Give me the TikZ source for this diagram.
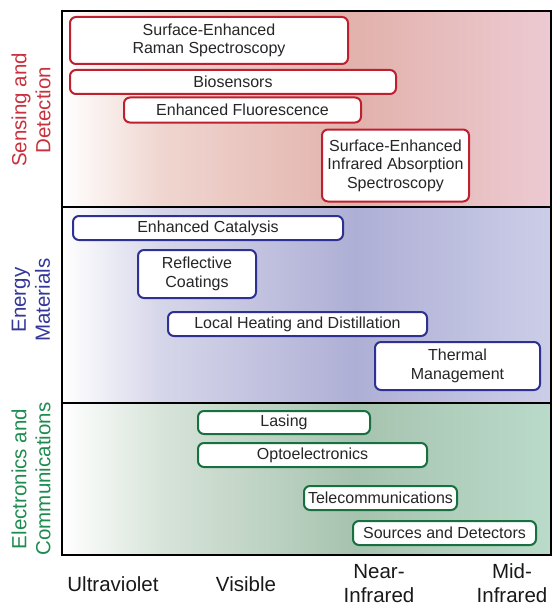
\documentclass[tikz,border=0pt]{standalone}
\usepackage{fontspec}
\setmainfont{Liberation Sans}
\usetikzlibrary{positioning}
\definecolor{sensered}{RGB}{190,32,48}
\definecolor{sensetext}{RGB}{200,50,62}
\definecolor{senselight}{RGB}{240,214,208}
\definecolor{sensemid}{RGB}{226,178,172}
\definecolor{senseright}{RGB}{236,202,210}
\definecolor{energyblue}{RGB}{46,49,146}
\definecolor{energytext}{RGB}{52,54,152}
\definecolor{energylight}{RGB}{214,214,234}
\definecolor{energymid}{RGB}{174,175,213}
\definecolor{energyright}{RGB}{204,206,232}
\definecolor{elecgreen}{RGB}{24,112,64}
\definecolor{electext}{RGB}{30,140,80}
\definecolor{eleclight}{RGB}{216,228,218}
\definecolor{elecmid}{RGB}{166,195,175}
\definecolor{elecright}{RGB}{186,218,202}
% shadings live on 100bp, the path is fitted into 25bp--75bp
\pgfdeclarehorizontalshading{sensefade}{100bp}{color(0bp)=(white); color(25bp)=(white); color(35bp)=(senselight); color(55bp)=(sensemid); color(75bp)=(senseright); color(100bp)=(senseright)}
\pgfdeclarehorizontalshading{energyfade}{100bp}{color(0bp)=(white); color(25bp)=(white); color(35bp)=(energylight); color(55bp)=(energymid); color(75bp)=(energyright); color(100bp)=(energyright)}
\pgfdeclarehorizontalshading{elecfade}{100bp}{color(0bp)=(white); color(25bp)=(white); color(35bp)=(eleclight); color(55bp)=(elecmid); color(75bp)=(elecright); color(100bp)=(elecright)}

\begin{document}
\begin{tikzpicture}[x=1pt, y=-1pt,
    box/.style={draw, rounded corners=6pt, fill=white, line width=2pt, align=center, inner sep=1pt,
        text=black!85, font=\fontsize{16}{18.5}\selectfont},
    sbox/.style={box, draw=sensered},
    ebox/.style={box, draw=energyblue},
    cbox/.style={box, draw=elecgreen},
    side/.style={rotate=90, align=center, font=\fontsize{20.5}{24}\selectfont},
    band/.style={align=center, text=black!90, font=\fontsize{20.5}{24}\selectfont}
]
    \useasboundingbox (0,0) rectangle (553,607);

    % Backgrounds
    \shade[shading=sensefade] (62,11) rectangle (551,207);
    \shade[shading=energyfade] (62,207) rectangle (551,403);
    \shade[shading=elecfade] (62,403) rectangle (551,555);
    \draw[line width=2.4pt] (62,11) rectangle (551,555);
    \draw[line width=2.4pt] (62,207) -- (551,207);
    \draw[line width=2.4pt] (62,403) -- (551,403);

    % Sensing and Detection
    \node[side, text=sensetext] (SD) at (31,110) {Sensing and\\Detection};
    \node[sbox, minimum width=278pt, minimum height=47pt] (SERS) at (209,40.5) {Surface-Enhanced\\Raman Spectroscopy};
    \node[sbox, minimum width=326pt, minimum height=24pt] (BIO) at (233,82) {Biosensors};
    \node[sbox, minimum width=237pt, minimum height=25pt] (FLU) at (242.5,110) {Enhanced Fluorescence};
    \node[sbox, minimum width=147pt, minimum height=72pt] (SEIRA) at (395.5,165.5) {Surface-Enhanced\\Infrared Absorption\\Spectroscopy};

    % Energy Materials
    \node[side, text=energytext] (EM) at (31,300) {Energy\\Materials};
    \node[ebox, minimum width=270pt, minimum height=24pt] (CAT) at (208,228) {Enhanced Catalysis};
    \node[ebox, minimum width=118pt, minimum height=48pt] (REF) at (197,274) {Reflective\\Coatings};
    \node[ebox, minimum width=259pt, minimum height=24pt] (HEAT) at (297.5,324) {Local Heating and Distillation};
    \node[ebox, minimum width=165pt, minimum height=48pt] (THM) at (457.5,366) {Thermal\\Management};

    % Electronics and Communications
    \node[side, text=electext] (EC) at (31,479) {Electronics and\\Communications};
    \node[cbox, minimum width=172pt, minimum height=23pt] (LAS) at (284,422.5) {Lasing};
    \node[cbox, minimum width=229pt, minimum height=24pt] (OPTO) at (312.5,455) {Optoelectronics};
    \node[cbox, minimum width=153pt, minimum height=24pt] (TEL) at (380.5,498) {Telecommunications};
    \node[cbox, minimum width=183pt, minimum height=24pt] (SRC) at (444.5,533) {Sources and Detectors};

    % Spectral ranges
    \node[band] (UV) at (113,584.5) {Ultraviolet};
    \node[band] (VIS) at (246,584.5) {Visible};
    \node[band] (NIR) at (379,583.5) {Near-\\Infrared};
    \node[band] (MIR) at (512,583.5) {Mid-\\Infrared};
\end{tikzpicture}
\end{document}
